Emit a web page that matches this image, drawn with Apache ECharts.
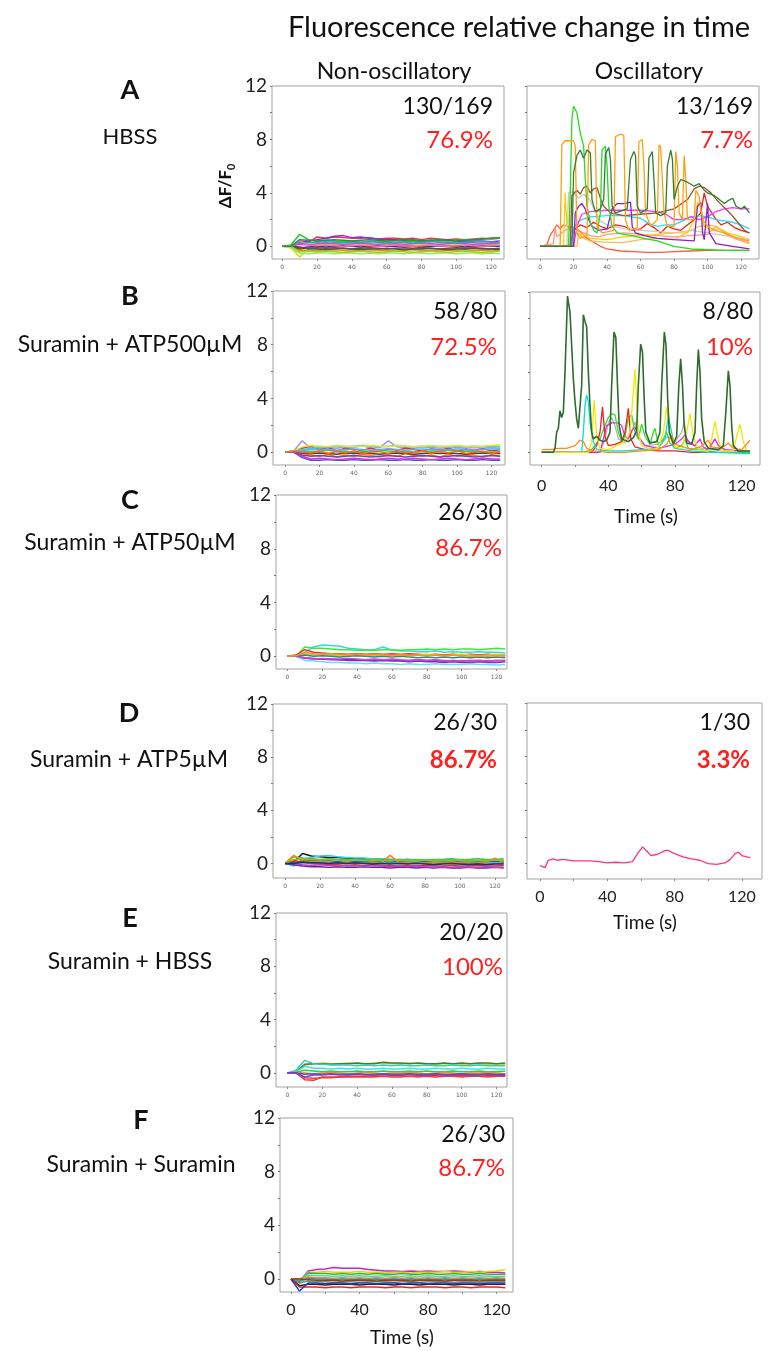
<!DOCTYPE html>
<html>
<head>
<meta charset="utf-8">
<script src="https://cdn.jsdelivr.net/npm/echarts@6/dist/echarts.min.js"></script>
<style>
  html, body { margin: 0; padding: 0; background: #ffffff; }
  #chart { width: 769px; height: 1351px; }
</style>
</head>
<body>
<div id="chart"></div>
<script>
// Sampling times (s) shared by the non-oscillating trace bundles
const timeGrid = [0,5,10,15,20,25,30,35,40,45,50,55,60,65,70,75,80,85,90,95,100,105,110,115,120,125];

// ---- A: HBSS, non-oscillatory cells (ΔF/F0 at each timeGrid point) ----
const hbssQuiet = [
  [0,0.05,0.2,0.3,0.7,0.6,0.7,0.65,0.6,0.6,0.65,0.55,0.6,0.6,0.55,0.6,0.5,0.6,0.55,0.5,0.55,0.5,0.55,0.6,0.55,0.6],
  [0,0,0.3,0.4,0.5,0.6,0.75,0.8,0.65,0.7,0.6,0.55,0.5,0.5,0.45,0.5,0.4,0.45,0.4,0.45,0.4,0.35,0.4,0.4,0.35,0.4],
  [0,0.1,0.9,0.5,0.4,0.45,0.4,0.35,0.4,0.3,0.35,0.4,0.35,0.3,0.35,0.4,0.35,0.4,0.45,0.4,0.45,0.5,0.5,0.55,0.6,0.6],
  [0,-0.1,-0.8,-0.2,0.1,0.15,0.2,0.1,0.15,0.2,0.1,0.15,0.2,0.15,0.1,0.2,0.15,0.1,0.15,0.2,0.15,0.1,0.15,0.2,0.15,0.1],
  [0,0.05,-0.3,-0.35,-0.3,-0.3,-0.25,-0.3,-0.35,-0.3,-0.25,-0.3,-0.3,-0.35,-0.3,-0.25,-0.3,-0.3,-0.35,-0.3,-0.3,-0.25,-0.3,-0.3,-0.35,-0.3],
  [0,0,-0.1,-0.05,0,-0.05,0,0.05,0,-0.05,0,0.05,0,0,0.05,0,-0.05,0,0.05,0,0,-0.05,0,0.05,0,0],
  [0,0,0.15,0.1,0.2,0.25,0.2,0.15,0.2,0.25,0.2,0.15,0.2,0.2,0.15,0.2,0.25,0.2,0.15,0.2,0.25,0.2,0.15,0.2,0.2,0.25],
  [0,-0.1,-0.5,-0.55,-0.5,-0.5,-0.55,-0.5,-0.5,-0.55,-0.5,-0.55,-0.5,-0.5,-0.55,-0.5,-0.5,-0.55,-0.5,-0.5,-0.55,-0.5,-0.5,-0.55,-0.5,-0.55],
  [0,0.05,0.3,0.25,0.3,0.35,0.3,0.25,0.3,0.3,0.35,0.3,0.25,0.3,0.3,0.25,0.3,0.35,0.3,0.3,0.25,0.3,0.3,0.35,0.3,0.3],
  [0,0,-0.2,-0.15,-0.1,-0.15,-0.1,-0.15,-0.2,-0.15,-0.1,-0.15,-0.2,-0.15,-0.1,-0.15,-0.1,-0.15,-0.2,-0.15,-0.1,-0.15,-0.1,-0.15,-0.2,-0.15],
  [0,0,-0.05,-0.2,-0.2,-0.25,-0.2,-0.15,-0.2,-0.25,-0.2,-0.2,-0.15,-0.2,-0.25,-0.2,-0.2,-0.15,-0.2,-0.25,-0.2,-0.2,-0.15,-0.2,-0.2,-0.25],
  [0,0,0.4,0.1,0.05,0.1,0.05,0,0.05,0.1,0.05,0,0.05,0.1,0.05,0,0.05,0.1,0.05,0,0.05,0.1,0.05,0,0.05,0.1],
  [0,0,-0.4,-0.35,-0.4,-0.35,-0.4,-0.45,-0.4,-0.35,-0.4,-0.45,-0.4,-0.35,-0.4,-0.45,-0.4,-0.35,-0.4,-0.45,-0.4,-0.35,-0.4,-0.45,-0.4,-0.35],
  [0,0,0.5,0.45,0.4,0.45,0.5,0.45,0.4,0.45,0.5,0.45,0.4,0.45,0.5,0.45,0.4,0.45,0.5,0.45,0.4,0.45,0.5,0.55,0.6,0.65]
];
const hbssQuietColors = ['#ff3030','#8a2be2','#22cc22','#e6d200','#ff8c00','#1f3fbf','#e040e0','#90ee50','#20b2aa','#8b4513','#555555','#ff69b4','#9acd32','#2e8b57'];

// ---- A: HBSS, oscillating cells ([time s, ΔF/F0]) ----
const hbssOscOrange = [[0,0],[12,0],[13,7.6],[15,7.9],[20,7.9],[21,7.5],[22,1],[24,0.6],[28,0.8],[29,7.6],[31,8.0],[33,7.9],[34,1.5],[37,1],[44,1.2],[45,8.2],[48,8.4],[50,8.3],[51,2],[53,1.2],[58,1.4],[59,7.8],[61,8.0],[62,6],[63,2.5],[66,1.5],[70,2],[71,7.6],[72,7.4],[74,2.5],[76,1.5],[80,1.5],[81,7.1],[82,6],[83,2.5],[85,2],[86,6.8],[87,5],[88,2],[92,2],[93,4.2],[95,3.7],[97,2],[100,1.5],[104,1.2],[110,1],[118,0.6],[125,0.4]];
const hbssOscDarkGreen = [[0,0],[19,0],[20,5.5],[22,6.8],[24,7.2],[26,6.6],[28,7.2],[30,7.0],[31,3.5],[33,2.6],[36,2.8],[38,3.5],[39,6.9],[41,7.4],[42,6.5],[43,3],[45,2.5],[52,2.8],[54,6.5],[56,7.1],[57,6.8],[58,3],[60,2.5],[64,2.8],[65,6.6],[67,7.1],[68,5],[69,2.5],[72,2.3],[75,2.5],[76,6],[78,7.2],[79,6.5],[80,3.5],[82,4.5],[84,5.0],[88,4.8],[92,4.5],[95,4.7],[98,4.2],[100,4.0],[104,3.8],[107,3.5],[110,3.2],[112,3.4],[115,3.6],[117,3.0],[120,2.8],[122,3.0],[125,2.5]];
const hbssOscGreen = [[0,0],[17,0],[18,4],[19,9.5],[20,10.5],[22,10.0],[24,8.5],[26,7.5],[27,5],[28,3],[30,1.8],[32,1.2],[34,1.0],[36,2.5],[37,7.2],[39,7.5],[40,6],[41,3],[43,1.5],[46,1.0],[50,0.9],[55,0.8],[62,0.6],[70,0.4],[75,0.2],[80,0],[90,-0.2],[100,-0.25],[110,-0.3],[125,-0.3]];
const hbssOscBrown = [[0,0],[18,0],[19,3.8],[22,4.2],[24,3.9],[26,4.4],[28,4.5],[30,4.0],[32,4.3],[34,4.4],[36,3.6],[38,3.0],[42,2.5],[50,2.3],[60,2.4],[70,2.5],[80,2.8],[88,3.5],[92,4.3],[95,4.5],[98,4.4],[102,4.0],[106,3.4],[110,2.9],[114,2.4],[118,1.8],[122,1.2],[125,1.0]];
const hbssOscGrey = [[0,0],[16,0],[17,4],[20,4.1],[23,3.6],[26,3.9],[30,3.4],[35,2.0],[40,1.6],[50,1.3],[60,1.2],[70,1.1],[80,1.0],[90,1.2],[100,1.0],[110,0.8],[125,0.5]];
const hbssOscPurple = [[0,0],[20,0],[21,2.5],[23,3.0],[25,3.2],[27,2.8],[29,2.0],[31,1.5],[35,1.2],[40,1.3],[43,2.8],[46,3.2],[50,3.2],[54,3.3],[55,1.5],[57,1.0],[62,0.8],[70,0.6],[80,0.5],[92,0.4],[94,3.0],[96,3.3],[97,1],[98,0.5],[100,3.2],[101,1],[105,0.2],[115,0],[125,-0.2]];
const hbssOscMagenta = [[0,0],[20,0],[22,1.5],[25,2.4],[30,2.6],[40,2.7],[50,2.7],[60,2.7],[70,2.6],[75,2.4],[80,2.0],[85,2.0],[90,2.2],[95,2.0],[100,2.2],[105,2.6],[110,2.8],[115,2.9],[120,2.8],[125,2.8]];
const hbssOscCyan = [[0,0],[18,0],[20,1.2],[22,1.8],[25,2.0],[30,2.2],[40,2.3],[50,2.3],[60,2.1],[65,1.7],[70,1.5],[75,1.6],[80,1.6],[85,1.9],[90,2.2],[95,2.3],[100,2.2],[105,2.0],[110,1.9],[115,1.8],[120,1.6],[125,1.3]];
const hbssOscYellow = [[0,0],[14,0],[15,4.0],[16,1.5],[18,1.2],[20,1.0],[25,0.9],[30,0.6],[40,0.5],[50,0.7],[60,0.8],[70,0.9],[80,1.0],[88,1.0],[92,2.0],[94,3.3],[96,3.0],[98,1.5],[102,1.2],[108,1.3],[112,1.0],[118,0.8],[125,0.5]];
const hbssOscRed = [[0,0],[18,0],[20,1.2],[24,1.6],[28,1.4],[32,1.8],[36,1.5],[40,1.3],[45,1.6],[50,1.5],[55,1.2],[60,1.3],[64,1.7],[68,1.4],[72,1.0],[76,1.5],[80,1.3],[84,1.2],[88,1.6],[92,2.0],[96,2.5],[98,4.0],[100,3.0],[104,2.2],[108,1.6],[112,1.8],[116,1.4],[120,1.2],[125,1.0]];
const hbssOscTomato = [[0,0],[4,0.1],[6,0.8],[8,1.2],[10,1.6],[12,1.3],[14,1.6],[16,1.5],[20,1.4],[24,1.1],[28,0.6],[32,0.3],[36,0.0],[40,-0.2],[48,-0.35],[56,-0.4],[64,-0.45],[72,-0.45],[80,-0.4],[90,-0.35],[100,-0.3],[110,-0.3],[125,-0.3]];
const hbssOscSalmon = [[0,0],[8,0.2],[9,1.4],[10,0.7],[12,0.9],[15,1.2],[18,1.5],[22,1.3],[26,1.0],[30,0.8],[35,0.7],[40,0.9],[50,1.0],[60,0.9],[70,0.8],[80,0.7],[90,0.8],[100,0.9],[105,1.5],[108,1.2],[112,0.8],[118,0.5],[125,0.2]];
const hbssOscGold = [[0,0],[22,0],[23,1.0],[26,0.6],[30,0.4],[40,0.3],[50,0.3],[60,0.5],[70,0.6],[80,0.5],[90,1.2],[95,1.5],[100,1.6],[105,1.5],[110,1.1],[115,0.7],[120,0.5],[125,0.3]];
const hbssOsc = [hbssOscTomato, hbssOscSalmon, hbssOscGold, hbssOscYellow, hbssOscRed, hbssOscCyan, hbssOscMagenta, hbssOscGrey, hbssOscPurple, hbssOscBrown, hbssOscGreen, hbssOscOrange, hbssOscDarkGreen];
const hbssOscColors = ['#ff5a36','#ff9a80','#ffbb55','#ffd000','#ee2222','#22e0ee','#ff33ff','#c8c8c8','#8b1ec8','#a0522d','#22dd22','#ffa010','#2f7f2f'];

// ---- B: Suramin + ATP 500 µM ----
const atp500Quiet = [
  [0,0.1,0.85,0.3,0.4,0.35,0.3,0.4,0.35,0.5,0.3,0.35,0.85,0.4,0.35,0.3,0.4,0.35,0.3,0.4,0.35,0.3,0.35,0.3,0.35,0.3],
  [0,0.05,-0.1,-0.2,-0.3,-0.15,-0.35,-0.2,-0.3,-0.15,-0.25,-0.35,-0.2,-0.3,-0.1,-0.25,-0.3,-0.2,-0.35,-0.15,-0.3,-0.2,-0.25,-0.35,-0.2,-0.3],
  [0,0.1,0.3,0.45,0.2,0.35,0.1,0.3,0.2,0.15,0.3,0.1,0.25,0.15,0.3,0.2,0.1,0.25,0.15,0.3,0.1,0.2,0.15,0.25,0.1,0.2],
  [0,0,-0.4,-0.6,-0.6,-0.55,-0.6,-0.6,-0.55,-0.6,-0.6,-0.55,-0.6,-0.6,-0.55,-0.6,-0.6,-0.55,-0.6,-0.6,-0.55,-0.6,-0.6,-0.55,-0.6,-0.6],
  [0,0,-0.3,-0.5,-0.45,-0.5,-0.55,-0.5,-0.45,-0.5,-0.55,-0.5,-0.45,-0.5,-0.5,-0.45,-0.5,-0.55,-0.5,-0.45,-0.5,-0.55,-0.5,-0.45,-0.5,-0.5],
  [0,0.1,0.2,0.3,0.35,0.4,0.45,0.4,0.45,0.5,0.45,0.4,0.45,0.5,0.45,0.4,0.45,0.4,0.45,0.4,0.45,0.4,0.45,0.4,0.45,0.4],
  [0,0.1,0.4,0.5,0.45,0.4,0.5,0.45,0.4,0.45,0.5,0.45,0.4,0.5,0.45,0.4,0.45,0.5,0.4,0.45,0.5,0.45,0.4,0.45,0.5,0.55],
  [0,0.05,0.1,0.05,0.1,0.15,0.05,0.1,0.0,0.1,0.05,0.15,0.1,0.05,0.1,0.0,0.05,0.1,0.05,0.15,0.1,0.05,0.1,0.05,0.0,0.05],
  [0,0,-0.05,-0.1,-0.05,-0.1,-0.15,-0.05,-0.1,-0.05,-0.1,-0.15,-0.1,-0.05,-0.1,-0.15,-0.1,-0.05,-0.1,-0.05,-0.1,-0.15,-0.1,-0.05,-0.1,-0.1],
  [0,0,-0.2,-0.3,-0.25,-0.3,-0.35,-0.3,-0.25,-0.3,-0.35,-0.3,-0.25,-0.3,-0.35,-0.3,-0.25,-0.3,-0.35,-0.3,-0.25,-0.3,-0.35,-0.3,-0.25,-0.3],
  [0,0.1,0.15,0.2,0.25,0.2,0.15,0.2,0.25,0.2,0.15,0.2,0.25,0.2,0.15,0.2,0.25,0.2,0.15,0.2,0.25,0.2,0.15,0.2,0.25,0.2],
  [0,0.05,0.0,-0.05,0.1,-0.1,0.05,-0.05,0.1,-0.1,0.0,0.05,-0.1,0.1,-0.05,0.0,0.1,-0.1,0.05,-0.05,0.1,-0.1,0.0,0.05,-0.1,0.0]
];
const atp500QuietColors = ['#a494e8','#ff7722','#e03030','#3355dd','#dd33dd','#33dddd','#f0e020','#44cc44','#444444','#7a3fbf','#5fa8ff','#ff6a00'];

const atp500OscDarkGreen = [[0,0],[7,0],[8,0.3],[9,1.5],[10,1.8],[11,3.1],[12,2.6],[13,3.0],[14,6],[15.5,11.7],[17,10.5],[18,8],[19,5.5],[20,3.8],[21,2.5],[22,1.8],[23,1.7],[24,5],[25,10.3],[26,9.8],[27,9.4],[28,6],[29,3.5],[30,1.5],[31,1.0],[33,1.2],[35,0.9],[37,0.8],[39,0.9],[41,1.5],[42,5],[43.4,9.0],[44.5,8.6],[45.5,5],[46.5,2],[48,1.0],[52,0.8],[55,1.1],[57,1.6],[58,5],[59.4,8.1],[60.5,7.5],[61.5,4],[62.5,1.5],[65,0.7],[69,0.8],[71,1.5],[72,5],[73.6,9.0],[74.6,8],[75.6,4],[76.6,1.5],[79,0.6],[81,1.2],[82.3,5],[83.4,7.0],[84.5,5],[85.5,2],[87,0.7],[90,0.6],[92,1.5],[93,5],[94,7.7],[95,6],[96,2.5],[97.5,0.8],[100,0.3],[106,0.2],[109,0.5],[110.5,3],[112,6.1],[113,5],[114,2],[115,0.5],[118,0.1],[125,0.1]];
const atp500OscYellow = [[0,0],[28,0],[30,0.8],[31.5,3.9],[33,1.2],[35,0.3],[40,0.2],[45,0.5],[50,0.8],[53,1.5],[55,4.5],[56,6.2],[57,4],[58,1.5],[60,0.5],[65,0.2],[70,0.3],[73,1.5],[75,3.4],[77,1.5],[80,0.4],[84,0.3],[87,1.5],[89,2.9],[91,1.2],[94,0.2],[100,0.1],[102,1.0],[104,2.3],[106,1.0],[108,0.1],[115,0.1],[117,1.2],[119,2.1],[121,0.8],[123,0.1],[125,0.1]];
const atp500OscCyan = [[0,0],[24,0],[25,1.5],[26,3.5],[27,4.3],[28,3.8],[29,2.2],[31,0.8],[33,0.2],[40,0.1],[50,0.1],[60,0.2],[70,0.3],[74,1.0],[76,2.7],[78,1.5],[80,0.3],[90,0.1],[100,0],[125,0]];
const atp500OscRed = [[0,0],[30,0],[33,0.5],[35,1.5],[36.5,3.4],[38,1.2],[40,0.5],[44,0.6],[48,0.8],[50,1.5],[52,3.3],[53.5,1.0],[56,0.4],[62,0.2],[70,0.1],[80,0.1],[90,0],[110,0],[125,0]];
const atp500OscGreen = [[0,0],[25,0],[30,0.2],[35,1],[38,2],[40,2.6],[42,2.9],[44,2.8],[46,1.5],[48,0.8],[50,1.2],[52,2.6],[54,2.8],[56,1.5],[58,1],[60,2.1],[62,1.2],[65,0.6],[67,1.5],[68,1.8],[70,0.6],[73,1.0],[75,1.5],[77,0.7],[80,0.3],[84,0.5],[86,1.0],[88,0.3],[95,0.2],[105,0],[125,-0.1]];
const atp500OscMagenta = [[0,0],[35,0],[37,1.0],[39,2.0],[42,2.2],[46,2.2],[48,2.0],[50,1.2],[52,1.0],[54,1.6],[56,1.9],[58,1.2],[62,0.5],[70,0.3],[80,0.6],[84,1.0],[86,1.3],[88,0.8],[92,0.5],[95,1.0],[97,0.4],[100,0.2],[104,1.0],[106,0.5],[110,0.2],[118,0.1],[125,0]];
const atp500OscGrey = [[0,0],[35,0],[38,1.0],[40,2.2],[42,2.6],[44,2.0],[46,1.0],[50,0.7],[54,1.5],[56,2.3],[58,1.0],[62,0.5],[70,0.6],[76,1.2],[80,0.8],[84,1.5],[85.5,2.3],[87,1.0],[92,0.4],[100,0.2],[125,0.1]];
const atp500OscOrange = [[0,0.2],[5,0.2],[10,0.3],[15,0.3],[20,0.5],[23,0.9],[25,0.8],[27,0.3],[30,0.1],[40,0],[50,0],[60,0.1],[70,0.2],[75,0.6],[78,1.3],[80,0.6],[85,0.4],[90,0.2],[95,0.4],[100,0.9],[102,0.4],[108,0.3],[112,0.7],[115,0.3],[120,0.2],[123,0.6],[125,0.9]];
const atp500Osc = [atp500OscGrey, atp500OscMagenta, atp500OscGreen, atp500OscRed, atp500OscCyan, atp500OscYellow, atp500OscOrange, atp500OscDarkGreen];
const atp500OscColors = ['#b4b4b4','#ee22ee','#33dd33','#ee2020','#00dddd','#f5e600','#ff8c1a','#2e6b2e'];

// ---- C: Suramin + ATP 50 µM ----
const atp50Quiet = [
  [0,0,0.3,0.7,0.85,0.8,0.75,0.6,0.55,0.5,0.5,0.7,0.45,0.4,0.4,0.35,0.35,0.4,0.3,0.35,0.3,0.3,0.35,0.3,0.3,0.25],
  [0,0,0.7,0.6,0.6,0.55,0.5,0.5,0.45,0.45,0.45,0.5,0.5,0.45,0.5,0.5,0.55,0.5,0.55,0.5,0.55,0.55,0.5,0.55,0.6,0.55],
  [0,0.1,0.5,0.3,0.25,0.2,0.2,0.15,0.2,0.15,0.2,0.15,0.2,0.15,0.2,0.15,0.1,0.15,0.1,0.15,0.1,0.15,0.1,0.15,0.1,0.1],
  [0,0,-0.1,-0.15,-0.2,-0.2,-0.25,-0.2,-0.25,-0.3,-0.25,-0.3,-0.25,-0.3,-0.3,-0.25,-0.3,-0.3,-0.35,-0.3,-0.35,-0.3,-0.3,-0.35,-0.3,-0.3],
  [0,0,-0.15,-0.2,-0.2,-0.25,-0.25,-0.3,-0.3,-0.3,-0.35,-0.3,-0.35,-0.35,-0.4,-0.35,-0.4,-0.4,-0.45,-0.4,-0.45,-0.45,-0.4,-0.45,-0.45,-0.4],
  [0,0,-0.3,-0.35,-0.4,-0.45,-0.45,-0.5,-0.5,-0.55,-0.5,-0.55,-0.55,-0.6,-0.55,-0.6,-0.6,-0.55,-0.6,-0.6,-0.6,-0.55,-0.6,-0.6,-0.65,-0.6],
  [0,0,-0.1,-0.2,-0.15,-0.2,-0.2,-0.15,-0.2,-0.25,-0.2,-0.25,-0.2,-0.25,-0.3,-0.25,-0.3,-0.25,-0.3,-0.35,-0.3,-0.35,-0.3,-0.35,-0.3,-0.35],
  [0,0,0.2,0.1,0.15,0.1,0.05,0.1,0.05,0.1,0.05,0.1,0.05,0.1,0.05,0.1,0.15,0.1,0.05,0.1,0.15,0.1,0.05,0.1,0.15,0.1],
  [0,0,0.1,0.0,0.05,0.0,-0.05,0.0,0.05,0.0,-0.05,0.0,-0.05,0.0,-0.05,-0.1,-0.05,-0.1,-0.05,-0.1,-0.05,-0.1,-0.05,-0.1,-0.05,-0.1],
  [0,0.05,0.3,0.2,0.15,0.2,0.15,0.1,0.15,0.1,0.15,0.1,0.05,0.1,0.05,0.1,0.05,0.1,0.05,0.1,0.05,0.0,0.05,0.0,0.05,0.0]
];
const atp50QuietColors = ['#3dd6d6','#33ee33','#e63333','#2244cc','#7b2fbf','#66e0f0','#e03fd0','#b8d830','#2e8b8b','#ff9020'];

// ---- D: Suramin + ATP 5 µM ----
const atp5Quiet = [
  [0,0.1,0.75,0.55,0.5,0.45,0.45,0.4,0.35,0.35,0.3,0.3,0.3,0.25,0.3,0.25,0.2,0.25,0.2,0.2,0.25,0.2,0.2,0.2,0.2,0.15],
  [0,-0.2,0.3,0.45,0.55,0.6,0.5,0.45,0.4,0.4,0.35,0.35,0.3,0.3,0.3,0.25,0.3,0.25,0.25,0.3,0.25,0.25,0.2,0.25,0.2,0.25],
  [0,0.5,0.4,0.35,0.3,0.35,0.3,0.3,0.3,0.25,0.3,0.3,0.25,0.3,0.25,0.3,0.25,0.3,0.3,0.35,0.3,0.3,0.35,0.3,0.3,0.35],
  [0,0,0.2,0.25,0.2,0.2,0.15,0.2,0.15,0.15,0.1,0.15,0.1,0.15,0.1,0.1,0.15,0.1,0.1,0.15,0.1,0.1,0.15,0.1,0.15,0.1],
  [0,-0.1,-0.2,-0.25,-0.25,-0.3,-0.25,-0.3,-0.3,-0.25,-0.3,-0.3,-0.35,-0.3,-0.3,-0.35,-0.3,-0.35,-0.3,-0.35,-0.35,-0.3,-0.35,-0.35,-0.3,-0.35],
  [0,0.2,0.1,0.0,-0.05,-0.1,-0.1,-0.15,-0.1,-0.15,-0.1,-0.15,-0.15,-0.2,-0.15,-0.2,-0.15,-0.2,-0.2,-0.15,-0.2,-0.2,-0.15,-0.2,-0.2,-0.15],
  [0,0.6,0.2,0.15,0.1,0.1,0.05,0.1,0.05,0.05,0.1,0.05,0.6,0.1,0.05,0.1,0.05,0.1,0.05,0.1,0.05,0.1,0.05,0.1,0.4,0.05],
  [0,0,-0.1,-0.15,-0.1,-0.15,-0.2,-0.15,-0.2,-0.2,-0.15,-0.2,-0.25,-0.2,-0.25,-0.2,-0.25,-0.3,-0.25,-0.3,-0.25,-0.3,-0.3,-0.25,-0.3,-0.3],
  [0,0,0.05,0.0,0.05,0.0,0.05,0.0,0.0,0.05,0.0,0.0,0.05,0.0,0.0,0.05,0.0,-0.05,0.0,0.0,-0.05,0.0,0.0,-0.05,0.0,0.0],
  [0,0.3,0.35,0.3,0.25,0.3,0.25,0.2,0.25,0.2,0.25,0.2,0.2,0.25,0.2,0.2,0.25,0.2,0.2,0.2,0.25,0.2,0.2,0.2,0.25,0.2],
  [0,0,0.1,0.05,0.05,0.0,0.05,0.0,0.05,0.0,-0.05,0.0,-0.05,0.0,-0.05,0.0,-0.05,-0.1,-0.05,0.0,-0.05,-0.1,-0.05,-0.1,-0.05,-0.05]
];
const atp5QuietColors = ['#1a1a1a','#33d0e0','#2ecc40','#1f5fd0','#6a1fa0','#e03030','#ff7f0e','#c040c0','#1aa090','#8fbf20','#1f2f80'];
const atp5OscPink = [[0,-0.15],[3,-0.3],[5,0.25],[6,0.3],[8,0.35],[10,0.25],[13,0.3],[15,0.3],[20,0.2],[25,0.2],[30,0.2],[35,0.15],[40,0.05],[45,0.1],[50,0.05],[55,0.15],[58,0.75],[61,1.25],[63,1.0],[66,0.6],[70,0.7],[74,0.95],[76,1.0],[80,0.75],[85,0.5],[90,0.35],[95,0.25],[100,0.0],[105,-0.05],[110,0.05],[113,0.3],[116,0.75],[118,0.85],[120,0.6],[123,0.5],[125,0.45]];

// ---- E: Suramin + HBSS ----
const hbssSuraminQuiet = [
  [0,0.1,0.6,0.7,0.75,0.7,0.7,0.75,0.7,0.7,0.75,0.75,0.7,0.7,0.75,0.7,0.7,0.65,0.7,0.7,0.65,0.7,0.7,0.65,0.7,0.65],
  [0,0.1,0.65,0.7,0.7,0.65,0.7,0.7,0.75,0.7,0.7,0.8,0.75,0.75,0.7,0.75,0.7,0.7,0.75,0.7,0.75,0.7,0.75,0.75,0.7,0.75],
  [0,0.2,0.95,0.7,0.65,0.6,0.6,0.6,0.55,0.6,0.55,0.6,0.55,0.6,0.55,0.55,0.6,0.55,0.55,0.6,0.55,0.55,0.6,0.55,0.55,0.55],
  [0,0.1,0.5,0.35,0.35,0.3,0.35,0.3,0.35,0.3,0.3,0.35,0.3,0.3,0.35,0.3,0.3,0.35,0.3,0.3,0.35,0.3,0.3,0.35,0.3,0.3],
  [0,0.05,0.2,0.15,0.1,0.15,0.1,0.1,0.15,0.1,0.1,0.15,0.1,0.1,0.15,0.1,0.15,0.1,0.1,0.15,0.1,0.1,0.15,0.1,0.1,0.15],
  [0,0.05,0.0,-0.05,0.0,0.05,0.0,-0.05,0.0,0.05,0.0,-0.05,0.0,0.0,0.05,0.0,-0.05,0.0,0.05,0.0,-0.05,0.0,0.0,0.05,0.0,-0.05],
  [0,0,-0.5,-0.55,-0.3,-0.3,-0.3,-0.25,-0.25,-0.25,-0.2,-0.25,-0.2,-0.2,-0.25,-0.2,-0.2,-0.2,-0.25,-0.2,-0.2,-0.2,-0.25,-0.2,-0.2,-0.2],
  [0,0,-0.35,-0.4,-0.35,-0.35,-0.3,-0.3,-0.3,-0.3,-0.3,-0.25,-0.3,-0.3,-0.25,-0.3,-0.25,-0.3,-0.25,-0.25,-0.3,-0.25,-0.25,-0.3,-0.25,-0.25],
  [0,0,-0.1,-0.05,-0.1,-0.05,-0.1,-0.1,-0.05,-0.1,-0.1,-0.05,-0.1,-0.1,-0.05,-0.1,-0.1,-0.05,-0.1,-0.1,-0.05,-0.1,-0.1,-0.05,-0.1,-0.1],
  [0,0,-0.3,-0.15,-0.15,-0.1,-0.15,-0.15,-0.1,-0.15,-0.15,-0.1,-0.15,-0.15,-0.1,-0.15,-0.15,-0.1,-0.15,-0.15,-0.1,-0.15,-0.15,-0.1,-0.15,-0.15]
];
const hbssSuraminQuietColors = ['#e6c200','#4b7a2a','#2ad0c0','#40e0e8','#33cc33','#ff8c1a','#ff2a2a','#e64040','#3060d0','#8040c0'];

// ---- F: Suramin + Suramin ----
const suraminQuiet = [
  [0,-0.2,0.6,0.7,0.75,0.85,0.8,0.8,0.8,0.7,0.65,0.6,0.6,0.55,0.6,0.55,0.6,0.55,0.55,0.6,0.55,0.5,0.55,0.5,0.5,0.45],
  [0,-0.1,0.5,0.5,0.55,0.5,0.5,0.5,0.55,0.5,0.5,0.45,0.5,0.5,0.45,0.5,0.5,0.5,0.55,0.5,0.5,0.55,0.5,0.55,0.6,0.7],
  [0,-0.1,0.45,0.4,0.4,0.35,0.4,0.35,0.4,0.35,0.4,0.35,0.35,0.4,0.35,0.35,0.4,0.35,0.35,0.4,0.35,0.35,0.4,0.35,0.35,0.35],
  [0,0,0.3,0.25,0.25,0.2,0.25,0.2,0.25,0.2,0.2,0.25,0.2,0.2,0.25,0.2,0.25,0.2,0.2,0.25,0.2,0.2,0.25,0.2,0.2,0.2],
  [0,0,0.15,0.1,0.1,0.05,0.1,0.05,0.1,0.05,0.1,0.05,0.1,0.05,0.1,0.05,0.1,0.05,0.1,0.05,0.1,0.05,0.1,0.05,0.1,0.05],
  [0,-0.2,0.05,0.0,0.0,-0.05,0.0,-0.05,0.0,-0.05,0.0,-0.05,0.0,-0.05,0.0,-0.05,0.0,-0.05,0.0,-0.05,0.0,-0.05,0.0,-0.05,0.0,-0.05],
  [0,-0.3,-0.15,-0.2,-0.2,-0.25,-0.2,-0.2,-0.25,-0.2,-0.2,-0.2,-0.25,-0.2,-0.2,-0.25,-0.2,-0.2,-0.2,-0.25,-0.2,-0.2,-0.25,-0.2,-0.2,-0.2],
  [0,-0.5,-0.4,-0.4,-0.45,-0.4,-0.4,-0.4,-0.45,-0.4,-0.4,-0.4,-0.45,-0.4,-0.4,-0.45,-0.4,-0.4,-0.4,-0.45,-0.4,-0.4,-0.45,-0.4,-0.4,-0.4],
  [0,-0.6,-0.6,-0.6,-0.65,-0.6,-0.6,-0.65,-0.6,-0.6,-0.6,-0.65,-0.6,-0.6,-0.65,-0.6,-0.6,-0.6,-0.65,-0.6,-0.6,-0.65,-0.6,-0.6,-0.6,-0.65],
  [0,-0.9,-0.3,-0.3,-0.35,-0.3,-0.3,-0.35,-0.3,-0.3,-0.35,-0.3,-0.3,-0.35,-0.3,-0.3,-0.35,-0.3,-0.3,-0.35,-0.3,-0.3,-0.35,-0.3,-0.3,-0.3],
  [0,0,-0.05,-0.1,-0.1,-0.1,-0.15,-0.1,-0.1,-0.1,-0.15,-0.1,-0.1,-0.1,-0.15,-0.1,-0.1,-0.1,-0.15,-0.1,-0.1,-0.1,-0.15,-0.1,-0.1,-0.1]
];
const suraminQuietColors = ['#d020d0','#f0d000','#3ab53a','#40d8e0','#ff8020','#2e9e8e','#888888','#222222','#ee2222','#2040c0','#8b4513'];

// Tick values
const yTickValues = [0,2,4,6,8,10,12];
const yLabelValues = [0,4,8,12];
const xTickValues = [0,20,40,60,80,100,120];
const xBigLabelValues = [0,40,80,120];

// Cell counts and percentages per condition
const countTexts = ['130/169','13/169','58/80','8/80','26/30','26/30','1/30','20/20','26/30'];
const percentTexts = ['76.9%','7.7%','72.5%','10%','86.7%','86.7%','3.3%','100%','86.7%'];
const rowLetters = ['A','B','C','D','E','F'];
const rowConditions = ['HBSS','Suramin + ATP500µM','Suramin + ATP50µM','Suramin + ATP5µM','Suramin + HBSS','Suramin + Suramin'];

// ---------------- layout ----------------
const FONT = 'Lato';
const panels = [
  { left: 272, top: 86,   width: 232, height: 173, xMin: -5.9, xMax: 127.4, yMin: -0.95, xLab: 'small', yLab: true,  ann: [493, 107, 140] },
  { left: 527, top: 86,   width: 232, height: 173, xMin: -7.8, xMax: 130.7, yMin: -0.95, xLab: 'small', yLab: false, ann: [753, 107, 140] },
  { left: 273, top: 291,  width: 232, height: 174, xMin: -7.0, xMax: 127.8, yMin: -0.95, xLab: 'small', yLab: true,  ann: [497, 312, 347] },
  { left: 530, top: 292,  width: 230, height: 173, xMin: -7.0, xMax: 131,   yMin: -0.95, xLab: 'big', margin: 13, yLab: false, ann: [753, 312, 347] },
  { left: 276, top: 495,  width: 231, height: 174, xMin: -6.5, xMax: 126,   yMin: -0.94, xLab: 'small', yLab: true,  ann: [502, 513, 548] },
  { left: 273, top: 704,  width: 234, height: 174, xMin: -6.9, xMax: 126.9, yMin: -1.1,  xLab: 'small', yLab: true,  ann: [497, 723, 760], bold: true },
  { left: 527, top: 703,  width: 235, height: 176, xMin: -7.7, xMax: 132,   yMin: -1.15, xLab: 'big', margin: 10, yLab: false, ann: [750, 723, 760], bold: true },
  { left: 276, top: 913,  width: 231, height: 174, xMin: -6.5, xMax: 126,   yMin: -1.05, xLab: 'small', yLab: true,  ann: [503, 933, 967] },
  { left: 280, top: 1118, width: 233, height: 174, xMin: -6.4, xMax: 129.5, yMin: -0.97, xLab: 'big', margin: 10, yLab: true,  ann: [505, 1135, 1168] }
];
const rowY = [[90, 137, 130], [296, 345, 130], [500, 543, 130], [713, 760, 129], [918, 962, 130], [1120, 1165, 141]];

const grids = [], xAxes = [], yAxes = [], series = [];
panels.forEach((p, i) => {
  grids.push({ left: p.left, top: p.top, width: p.width, height: p.height, show: true,
               borderColor: '#a3a3a3', borderWidth: 1, backgroundColor: 'transparent' });
  const big = p.xLab === 'big';
  xAxes.push({
    type: 'value', gridIndex: i, min: p.xMin, max: p.xMax, position: 'bottom',
    axisLine: { show: false, onZero: false }, splitLine: { show: false },
    axisTick: { show: true, customValues: xTickValues, length: 2, lineStyle: { color: '#888', width: 1 } },
    axisLabel: big
      ? { customValues: xBigLabelValues, fontSize: 16, color: '#222', fontFamily: FONT, margin: p.margin }
      : { customValues: xTickValues, fontSize: 6, color: '#666', fontFamily: 'DejaVu Sans', margin: 5 }
  });
  yAxes.push({
    type: 'value', gridIndex: i, min: p.yMin, max: 12, position: 'left',
    axisLine: { show: false, onZero: false }, splitLine: { show: false },
    axisTick: { show: true, customValues: yTickValues, length: 2, lineStyle: { color: '#777', width: 1 } },
    axisLabel: p.yLab
      ? { customValues: yLabelValues, fontSize: 19, color: '#222', fontFamily: FONT, margin: 5 }
      : { show: false }
  });
});

function addLine(panel, data, color, width) {
  series.push({
    type: 'line', xAxisIndex: panel, yAxisIndex: panel, data: data,
    symbol: 'none', showSymbol: false, silent: true, animation: false,
    lineStyle: { color: color, width: width }, itemStyle: { color: color }
  });
}
function onGrid(values) { return timeGrid.map((t, k) => [t, values[k]]); }
function addBundle(panel, traces, colors) {
  traces.forEach((v, k) => addLine(panel, onGrid(v), colors[k % colors.length], 1.5));
}

addBundle(0, hbssQuiet, hbssQuietColors);
hbssOsc.forEach((tr, k) => addLine(1, tr, hbssOscColors[k], 1.3));
addBundle(2, atp500Quiet, atp500QuietColors);
atp500Osc.forEach((tr, k) => addLine(3, tr, atp500OscColors[k], k === atp500Osc.length - 1 ? 1.6 : 1.3));
addBundle(4, atp50Quiet, atp50QuietColors);
addBundle(5, atp5Quiet, atp5QuietColors);
addLine(6, atp5OscPink, '#ff3377', 1.3);
addBundle(7, hbssSuraminQuiet, hbssSuraminQuietColors);
addBundle(8, suraminQuiet, suraminQuietColors);

// ---------------- text ----------------
function txt(x, y, text, size, opt) {
  opt = opt || {};
  return { type: 'text', x: x, y: y, z: 100, silent: true,
    style: { text: text, fontSize: size, fontFamily: FONT, fontWeight: opt.bold ? 'bold' : 'normal',
             fill: opt.color || '#111', align: opt.align || 'center', verticalAlign: 'middle' } };
}
const graphic = [];
graphic.push(txt(519, 28, 'Fluorescence relative change in time', 29));
graphic.push(txt(394, 72, 'Non-oscillatory', 23));
graphic.push(txt(649, 72, 'Oscillatory', 23));
rowY.forEach((r, k) => {
  graphic.push(txt(r[2], r[0], rowLetters[k], 27, { bold: true }));
  graphic.push(txt(r[2], r[1], rowConditions[k], k === 0 ? 22 : 23));
});
panels.forEach((p, i) => {
  graphic.push(txt(p.ann[0], p.ann[1], countTexts[i], 23, { align: 'right' }));
  graphic.push(txt(p.ann[0], p.ann[2], percentTexts[i], 24, { align: 'right', color: '#ff1f1f', bold: !!p.bold }));
});
// y-axis title, reading upward
graphic.push({ type: 'group', x: 226, y: 187, rotation: Math.PI / 2, silent: true, children: [
  { type: 'text', x: 17, y: 0, style: { text: 'ΔF/F', fontSize: 17, fontWeight: 'bold', fontFamily: FONT, fill: '#111', align: 'right', verticalAlign: 'middle' } },
  { type: 'text', x: 17, y: 5, style: { text: '0', fontSize: 11, fontWeight: 'bold', fontFamily: FONT, fill: '#111', align: 'left', verticalAlign: 'middle' } }
]});
graphic.push(txt(646, 517, 'Time (s)', 19));
graphic.push(txt(645, 923, 'Time (s)', 19));
graphic.push(txt(402, 1338, 'Time (s)', 19));

const chart = echarts.init(document.getElementById('chart'), null, { renderer: 'canvas' });
chart.setOption({
  backgroundColor: '#ffffff',
  animation: false,
  grid: grids, xAxis: xAxes, yAxis: yAxes, series: series,
  graphic: graphic
});
</script>
</body>
</html>
